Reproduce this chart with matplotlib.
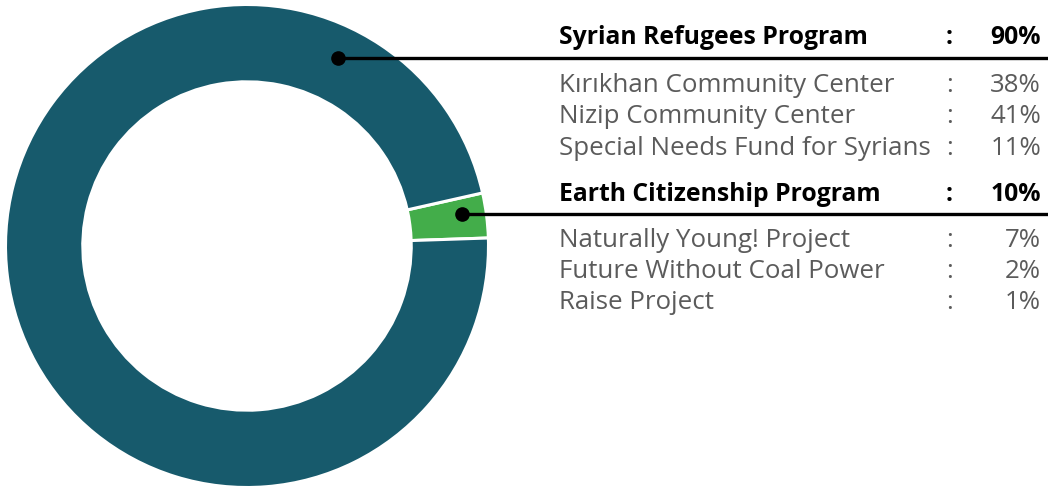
import matplotlib
matplotlib.use("Agg")
import matplotlib.pyplot as plt
import numpy as np

# ---- data ----
programs = ["Earth Citizenship Program", "Syrian Refugees Program"]
program_pct = ["10%", "90%"]
wedge_sizes = [3.0, 97.0]          # drawn share of the ring (as pictured)
wedge_colors = ["#43ad4a", "#175a6c"]

syrian_items = ["Kırıkhan Community Center", "Nizip Community Center",
                "Special Needs Fund for Syrians"]
syrian_pct = ["38%", "41%", "11%"]
earth_items = ["Naturally Young! Project", "Future Without Coal Power",
               "Raise Project"]
earth_pct = ["7%", "2%", "1%"]

W, H = 1048, 488
fig = plt.figure(figsize=(W / 100, H / 100), dpi=100)
fig.patch.set_facecolor("white")

# pie axes (pixel box: x 5.5..488.5, y 4.5..487.5)
cx, cy, R = 247.0, 246.0, 241.5
ax = fig.add_axes([(cx - R) / W, 1 - (cy + R) / H, 2 * R / W, 2 * R / H])
ax.pie(wedge_sizes, colors=wedge_colors, startangle=1.9, counterclock=True,
       radius=1.0, wedgeprops=dict(width=0.32, edgecolor="white", linewidth=2.2))
ax.set_xlim(-1, 1)
ax.set_ylim(-1, 1)
ax.set_aspect("equal")
ax.axis("off")

# overlay axes in pixel coordinates
ov = fig.add_axes([0, 0, 1, 1])
ov.set_xlim(0, W)
ov.set_ylim(H, 0)
ov.axis("off")

def to_px(xd, yd):
    p = ax.transData.transform((xd, yd))
    return ov.transData.inverted().transform(p)

font = "Open Sans"
fs = 18.6
fs_b = 17.8
gray = "#5b5b5b"

# leader dots and lines
dot_specs = [(64.0, 0.864), (8.4, 0.899)]  # (angle deg, radius) for Syrian, Earth
for ang, r in dot_specs:
    a = np.deg2rad(ang)
    x, y = to_px(r * np.cos(a), r * np.sin(a))
    ov.plot([x, W], [y, y], color="black", lw=2.4, solid_capstyle="butt", zorder=3)
    ov.plot([x], [y], "o", color="black", ms=9.5, zorder=4)

x_label, x_colon, x_pct = 559, 949, 1041

def block(title, pct, items, ipcts, y_title, y_first, step):
    ov.text(x_label, y_title, title, fontsize=fs_b, fontweight="bold", family=font,
            color="black", va="baseline", ha="left")
    ov.text(x_colon, y_title, ":", fontsize=fs_b, fontweight="bold", family=font,
            color="black", va="baseline", ha="center")
    ov.text(x_pct, y_title, pct, fontsize=fs_b, fontweight="bold", family=font,
            color="black", va="baseline", ha="right")
    for i, (it, p) in enumerate(zip(items, ipcts)):
        y = y_first + i * step
        ov.text(x_label, y, it, fontsize=fs, family=font, color=gray,
                va="baseline", ha="left")
        ov.text(x_colon, y, ":", fontsize=fs, family=font, color=gray,
                va="baseline", ha="center")
        ov.text(x_pct, y, p, fontsize=fs, family=font, color=gray,
                va="baseline", ha="right")

block(programs[1], program_pct[1], syrian_items, syrian_pct, 43.5, 91.7, 31.7)
block(programs[0], program_pct[0], earth_items, earth_pct, 200.7, 246.7, 29.5 + 1.7)

fig.savefig("out.png", dpi=100, facecolor="white")
